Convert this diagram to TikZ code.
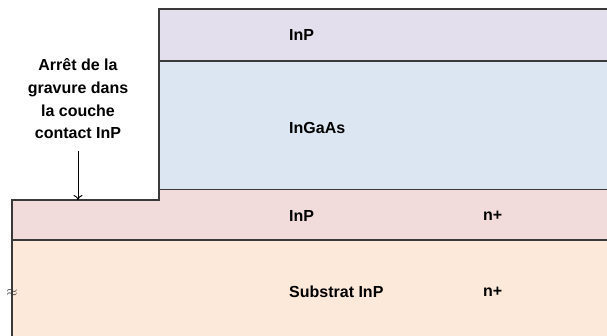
\documentclass[tikz,border=0pt]{standalone}
\usepackage{fontspec}
\setmainfont{Liberation Sans}
\usetikzlibrary{arrows.meta}
\definecolor{lavende}{HTML}{E4DFEC}
\definecolor{bleuclair}{HTML}{DCE6F2}
\definecolor{roseclair}{HTML}{F2DCDB}
\definecolor{pecheclair}{HTML}{FDE9D9}
\definecolor{trait}{HTML}{3A3A3A}
\tikzset{
	couche/.style={draw=trait,line width=1.5pt},
	etiq/.style={anchor=west,inner sep=0pt,font=\fontsize{16}{18}\selectfont\bfseries}
}
\begin{document}
\begin{tikzpicture}[x=1pt,y=-1pt]
					\useasboundingbox (0,0) rectangle (607,336);
					\clip (0,0) rectangle (607,336);
					% empilement des couches
					\draw[couche,fill=pecheclair] (12,345) -- (12,240) -- (615,240) -- (615,345);
					\draw[couche,fill=roseclair] (12,240) -- (12,200) -- (159,200) -- (159,189) -- (615,189) -- (615,240) -- cycle;
					\draw[couche,fill=bleuclair] (159,189) -- (159,61) -- (615,61) -- (615,189);
					\draw[couche,fill=lavende] (159,61) -- (159,9) -- (615,9) -- (615,61) -- cycle;
					% textes
					\node[etiq] (inp1) at (289,35) {InP};
					\node[etiq] (ingaas) at (289,128) {InGaAs};
					\node[etiq] (inp2) at (289,216) {InP};
					\node[etiq] (n1) at (483,216) {n+};
					\node[etiq] (sub) at (289,292) {Substrat InP};
					\node[etiq] (n2) at (483,292) {n+};
					\node[inner sep=0pt,font=\fontsize{15}{15}\selectfont\bfseries,trait] (coupure) at (12,293) {$\approx$};
					% arret de gravure
					\node[align=center,inner sep=0pt,font=\fontsize{16}{22.7}\selectfont\bfseries] (arret) at (78,99) {Arrêt de la\\gravure dans\\la couche\\contact InP};
					\coordinate (gravure) at (78,200);
					\draw[-{To[length=5pt,width=9pt,line width=1pt]},line width=1pt,black] ([yshift=-12pt]arret.south) -- (gravure);
				\end{tikzpicture}
\end{document}
